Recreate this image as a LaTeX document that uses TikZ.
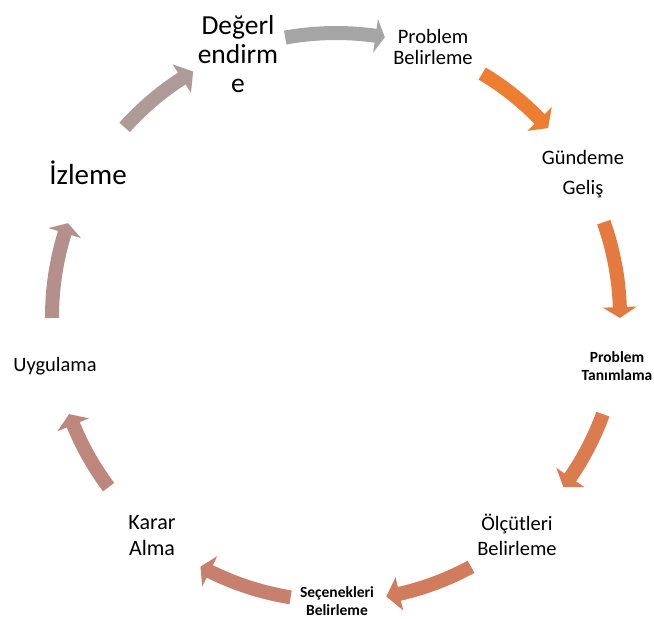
\documentclass[tikz,border=0pt]{standalone}
\usepackage{fontspec}
\setmainfont{Carlito}
\definecolor{cA}{HTML}{A5A5A5}
\definecolor{cB}{HTML}{ED7D31}
\definecolor{cC}{HTML}{E57A40}
\definecolor{cD}{HTML}{DB7B50}
\definecolor{cE}{HTML}{D27C5E}
\definecolor{cF}{HTML}{C8806E}
\definecolor{cG}{HTML}{BE877D}
\definecolor{cH}{HTML}{B58F8B}
\definecolor{cI}{HTML}{AE9A99}
\newcommand{\cyclearrow}[4]{%
  \fill[#1] (#2:291pt) arc[start angle=#2, end angle=#3, radius=291pt]
    -- (#3:301pt) -- (#4:284pt) -- (#3:267pt) -- (#3:277pt)
    arc[start angle=#3, end angle=#2, radius=277pt] -- cycle;}
\begin{document}
\begin{tikzpicture}[x=1pt,y=1pt,
  lbl/.style={align=center, inner sep=0pt, text=black},
  big/.style={lbl, font=\fontsize{27.5}{29}\selectfont},
  mid/.style={lbl, font=\fontsize{20.5}{#1}\selectfont},
  mid/.default=22,
  bsmall/.style={lbl, font=\fontsize{15.5}{18}\selectfont\bfseries}]
\useasboundingbox[fill=white] (0,-619) rectangle (654,0);
\begin{scope}[shift={(336,-317)}]
  \cyclearrow{cA}{100.3}{82}{80.1}
  \cyclearrow{cB}{59}{44.2}{41.7}
  \cyclearrow{cC}{19.5}{2}{-0.2}
  \cyclearrow{cD}{-20}{-34.4}{-36.8}
  \cyclearrow{cE}{-61.6}{-77.1}{-79.8}
  \cyclearrow{cF}{260.8}{243.6}{241.5}
  \cyclearrow{cG}{216.8}{202.3}{200}
  \cyclearrow{cH}{180.2}{162.8}{160.7}
  \cyclearrow{cI}{138.1}{122.9}{120.2}
\end{scope}
\node[big] (deg) at (238,-54) {Değerl\\endirm\\e};
\node[mid=21] (pb) at (433,-47) {Problem\\Belirleme};
\node[mid=30] (gg) at (583,-174) {Gündeme\\Geliş};
\node[bsmall] (pt) at (617,-366) {Problem\\Tanımlama};
\node[mid=25] (ol) at (517,-535) {Ölçütleri\\Belirleme};
\node[bsmall] (sec) at (337,-601) {Seçenekleri\\Belirleme};
\node[lbl, font=\fontsize{22}{26}\selectfont] (ka) at (152,-536) {Karar\\Alma};
\node[mid] (uy) at (55,-366) {Uygulama};
\node[lbl, font=\fontsize{29}{31}\selectfont] (iz) at (88,-173) {İzleme};
\end{tikzpicture}
\end{document}
